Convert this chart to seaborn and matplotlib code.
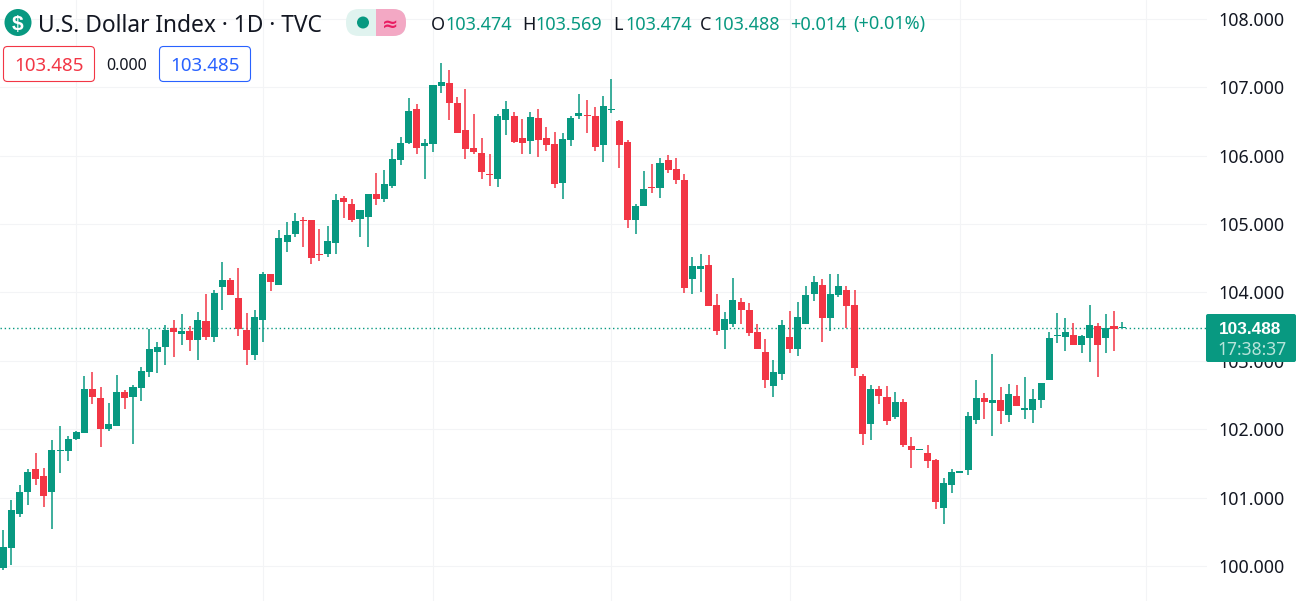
import numpy as np
import pandas as pd
import matplotlib.pyplot as plt
import seaborn as sns
from matplotlib.patches import FancyBboxPatch, Circle, Rectangle

# ── DATA ────────────────────────────────────────────────────────
opens = [99.97, 100.27, 100.77, 101.08, 101.42, 101.32, 101.09, 101.69, 101.69, 101.86,
         101.95, 102.59, 102.46, 102.00, 102.05, 102.55, 102.48, 102.61, 102.84, 103.13,
         103.21, 103.48, 103.40, 103.44, 103.31, 103.58, 103.35, 104.08, 104.18, 103.92,
         103.45, 103.09, 103.60, 104.27, 104.11, 104.74, 104.85, 105.06, 105.06, 104.56,
         104.56, 104.72, 105.38, 105.29, 105.07, 105.10, 105.44, 105.37, 105.56, 105.94,
         106.19, 106.68, 106.14, 106.17, 107.02, 107.06, 106.77, 106.37, 106.11, 106.04,
         105.73, 105.66, 106.52, 106.58, 106.26, 106.21, 106.55, 106.26, 106.17, 105.60,
         106.23, 106.58, 106.59, 106.58, 106.16, 106.67, 106.51, 106.20, 105.06, 105.26,
         105.54, 105.53, 105.94, 105.80, 105.64, 104.20, 104.34, 104.40, 103.82, 103.45,
         103.54, 103.86, 103.74, 103.42, 103.13, 102.63, 102.81, 103.35, 103.17, 103.54,
         103.98, 104.11, 103.63, 103.96, 104.04, 103.82, 102.78, 102.08, 102.59, 102.47,
         102.18, 102.40, 101.76, 101.70, 101.66, 101.55, 100.85, 101.19, 101.37, 101.41,
         102.14, 102.46, 102.39, 102.43, 102.21, 102.49, 102.28, 102.28, 102.43, 102.72,
         103.37, 103.35, 103.38, 103.23, 103.34, 103.51, 103.34, 103.51, 103.474]
highs = [100.53, 100.97, 101.19, 101.42, 101.66, 101.44, 101.85, 102.05, 101.90, 101.97,
         102.78, 102.84, 102.62, 102.39, 102.80, 102.58, 102.65, 102.91, 103.47, 103.28,
         103.53, 103.60, 103.69, 103.51, 103.72, 103.98, 104.04, 104.45, 104.21, 104.36,
         103.70, 103.74, 104.30, 104.27, 104.91, 105.03, 105.16, 105.10, 105.06, 104.93,
         104.97, 105.44, 105.41, 105.37, 105.21, 105.44, 105.75, 105.79, 106.10, 106.27,
         106.84, 106.75, 106.24, 107.03, 107.35, 107.25, 106.86, 106.97, 106.61, 106.26,
         106.02, 106.61, 106.80, 106.64, 106.53, 106.64, 106.68, 106.42, 106.35, 106.33,
         106.58, 106.90, 106.81, 106.71, 106.87, 107.12, 106.52, 106.23, 105.29, 105.78,
         105.88, 105.97, 106.01, 105.97, 105.73, 104.52, 104.56, 104.55, 103.98, 103.72,
         104.21, 103.92, 103.85, 103.54, 103.32, 103.01, 103.60, 103.73, 103.86, 104.10,
         104.24, 104.20, 104.27, 104.27, 104.10, 104.04, 102.81, 102.65, 102.63, 102.63,
         102.55, 102.44, 101.89, 101.71, 101.77, 101.57, 101.29, 101.42, 101.38, 102.25,
         102.72, 102.53, 103.10, 102.62, 102.66, 102.65, 102.77, 102.59, 102.68, 103.42,
         103.70, 103.63, 103.55, 103.38, 103.82, 103.55, 103.69, 103.73, 103.569]
lows = [99.94, 100.02, 100.72, 100.90, 101.19, 100.87, 100.55, 101.37, 101.54, 101.84,
        101.95, 102.37, 101.75, 101.97, 102.05, 102.30, 101.79, 102.42, 102.77, 102.82,
        102.94, 103.06, 103.23, 103.15, 103.01, 103.31, 103.28, 103.74, 103.96, 103.36,
        102.94, 103.01, 103.28, 104.02, 104.11, 104.59, 104.81, 104.66, 104.42, 104.46,
        104.52, 104.56, 105.09, 105.03, 104.81, 104.66, 105.28, 105.32, 105.53, 105.86,
        106.17, 106.02, 105.66, 106.05, 106.91, 106.52, 106.33, 105.95, 106.02, 105.66,
        105.56, 105.54, 106.30, 106.18, 106.02, 106.02, 105.98, 106.07, 105.53, 105.37,
        106.14, 106.53, 106.33, 106.07, 105.91, 106.62, 105.82, 104.94, 104.85, 105.26,
        105.45, 105.38, 105.75, 105.59, 103.99, 103.98, 104.01, 103.80, 103.38, 103.17,
        103.50, 103.54, 103.36, 103.17, 102.60, 102.47, 102.72, 103.12, 103.07, 103.54,
        103.88, 103.28, 103.44, 103.93, 103.48, 102.78, 101.77, 101.85, 102.37, 102.06,
        102.15, 101.74, 101.44, 101.70, 101.44, 100.84, 100.62, 101.07, 101.36, 101.33,
        102.08, 102.15, 101.90, 102.08, 102.11, 102.34, 102.15, 102.09, 102.31, 102.72,
        103.26, 103.15, 103.23, 103.12, 102.99, 102.77, 103.12, 103.15, 103.474]
closes = [100.28, 100.82, 101.09, 101.38, 101.28, 101.03, 101.70, 101.70, 101.86, 101.96,
          102.59, 102.48, 102.00, 102.08, 102.55, 102.46, 102.62, 102.85, 103.17, 103.20,
          103.45, 103.42, 103.44, 103.31, 103.60, 103.35, 103.99, 104.18, 103.96, 103.47,
          103.16, 103.64, 104.27, 104.15, 104.80, 104.84, 105.04, 105.04, 104.50, 104.55,
          104.75, 105.35, 105.32, 105.06, 105.21, 105.44, 105.37, 105.58, 105.95, 106.18,
          106.65, 106.11, 106.18, 107.03, 107.08, 106.77, 106.33, 106.10, 106.05, 105.76,
          105.72, 106.58, 106.68, 106.20, 106.18, 106.56, 106.23, 106.15, 105.58, 106.24,
          106.55, 106.62, 106.58, 106.13, 106.72, 106.68, 106.16, 105.06, 105.26, 105.51,
          105.53, 105.89, 105.79, 105.64, 104.07, 104.39, 104.39, 103.80, 103.44, 103.61,
          103.89, 103.74, 103.41, 103.17, 102.72, 102.84, 103.53, 103.17, 103.64, 103.96,
          104.15, 103.63, 103.98, 104.10, 103.80, 102.90, 101.93, 102.59, 102.49, 102.12,
          102.40, 101.77, 101.70, 101.71, 101.54, 100.94, 101.22, 101.38, 101.38, 102.20,
          102.46, 102.40, 102.43, 102.27, 102.52, 102.34, 102.31, 102.44, 102.68, 103.34,
          103.38, 103.42, 103.23, 103.36, 103.53, 103.23, 103.48, 103.47, 103.488]

price_ticks = [100, 101, 102, 103, 104, 105, 106, 107, 108]
grid_candles = [9, 32, 53, 75, 97, 118, 141]
last_price = 103.488

title_text = 'U.S. Dollar Index · 1D · TVC'
ohlc_labels = ['O', 'H', 'L', 'C']
ohlc_values = ['103.474', '103.569', '103.474', '103.488']
change_text = '+0.014'
change_pct_text = '(+0.01%)'
bid_text = '103.485'
spread_text = '0.000'
ask_text = '103.485'
tag_price = '103.488'
tag_timer = '17:38:37'

GREEN = '#089981'
RED = '#F23645'
INK = '#131722'
GRID = '#F3F4F6'

df = pd.DataFrame({'i': np.arange(len(opens)), 'open': opens, 'high': highs,
                   'low': lows, 'close': closes})
df['up'] = df['close'] >= df['open']
df['bottom'] = df[['open', 'close']].min(axis=1)
# a doji still shows as a thin line on the real chart
df['height'] = (df['close'] - df['open']).abs().clip(lower=0.016)

# ── CHART ───────────────────────────────────────────────────────
sns.set_theme(style='whitegrid', rc={'grid.color': GRID, 'grid.linewidth': 0.8})
plt.rcParams['font.family'] = ['Noto Sans', 'DejaVu Sans']

W, H = 1300, 601
fig = plt.figure(figsize=(W / 100, H / 100), dpi=100, facecolor='white')
ax = fig.add_axes([0, 0, 1207 / W, 1])

for is_up, color in [(True, GREEN), (False, RED)]:
    sub = df[df['up'] == is_up]
    ax.vlines(sub['i'], sub['low'], sub['high'], color=color, linewidth=1.1, zorder=2)
    sns.barplot(data=sub, x='i', y='height', bottom=sub['bottom'].values, native_scale=True,
                color=color, saturation=1, width=0.87, errorbar=None, linewidth=0,
                zorder=3, ax=ax)

ax.axhline(last_price, color=GREEN, linewidth=1.0, linestyle=(0, (1, 2)), zorder=1)

ax.set_xlim(-0.407, 148.47)
ax.set_ylim(99.493, 108.273)
ax.set_xlabel('')
ax.set_ylabel('')
ax.set_xticks(grid_candles)
ax.set_yticks(price_ticks)
ax.set_yticklabels([f'{p:.3f}' for p in price_ticks])
ax.yaxis.tick_right()
ax.tick_params(axis='x', length=0, labelbottom=False)
ax.tick_params(axis='y', length=0, pad=8.2, labelsize=12.8, labelcolor=INK)
ax.grid(True, color=GRID, linewidth=0.8)
ax.set_axisbelow(True)
sns.despine(ax=ax, left=True, bottom=True, right=True, top=True)

# ── HEADER + PRICE TAG (pixel coordinates) ──────────────────────
ov = fig.add_axes([0, 0, 1, 1], facecolor='none')
ov.set_xlim(0, W)
ov.set_ylim(H, 0)
ov.axis('off')

ov.add_patch(Circle((18, 22.5), 13.5, color=GREEN, linewidth=0))
ov.text(18, 22.5, '$', color='white', fontsize=15, fontweight='bold', family='Liberation Sans',
        ha='center', va='center_baseline')
ov.text(38, 23, title_text, color=INK, fontsize=16.4, ha='left', va='center_baseline')

# status pill
pill = FancyBboxPatch((346, 9), 60, 27, boxstyle='round,pad=0,rounding_size=13', facecolor='#E0F3EF',
                      edgecolor='none', zorder=2)
ov.add_patch(pill)
pink = Rectangle((376, 9), 30, 27, facecolor='#F3A8C4', edgecolor='none', zorder=3)
ov.add_patch(pink)
pink.set_clip_path(pill)
ov.add_patch(Circle((363, 22.5), 6, color=GREEN, linewidth=0, zorder=4))
ov.text(390, 22, '≈', color='#E91E63', fontsize=14, fontweight='bold', ha='center', va='center_baseline',
        family='DejaVu Sans', zorder=4)

# OHLC readout
for x, label in zip([431, 522, 613, 700], ohlc_labels):
    ov.text(x, 22.5, label, color=INK, fontsize=13, ha='left', va='center_baseline')
for x, value in zip([445, 535, 625, 713], ohlc_values):
    ov.text(x, 22.5, value, color=GREEN, fontsize=13, ha='left', va='center_baseline')
ov.text(790, 22.5, change_text, color=GREEN, fontsize=13, ha='left', va='center_baseline')
ov.text(853, 22.5, change_pct_text, color=GREEN, fontsize=13, ha='left', va='center_baseline')

# buy / sell boxes
ov.add_patch(FancyBboxPatch((3.5, 46.5), 91, 35, boxstyle='round,pad=0,rounding_size=4', facecolor='white',
                            edgecolor=RED, linewidth=0.8))
ov.text(49, 64, bid_text, color=RED, fontsize=13.5, ha='center', va='center_baseline')
ov.text(127, 64, spread_text, color=INK, fontsize=11.6, ha='center', va='center_baseline')
ov.add_patch(FancyBboxPatch((159.5, 46.5), 91, 35, boxstyle='round,pad=0,rounding_size=4', facecolor='white',
                            edgecolor='#2962FF', linewidth=0.8))
ov.text(205, 64, ask_text, color='#2962FF', fontsize=13.5, ha='center', va='center_baseline')

# last price tag
ov.add_patch(FancyBboxPatch((1206, 314), 90, 48, boxstyle='round,pad=0,rounding_size=2', facecolor=GREEN,
                            edgecolor='none'))
ov.text(1250, 328, tag_price, color='white', fontsize=12.4, fontweight='bold', family='Liberation Sans',
        ha='center', va='center_baseline')
ov.text(1252.5, 348, tag_timer, color='#B7E4DA', fontsize=12.6, ha='center', va='center_baseline')

fig.savefig('out.png', dpi=100)
